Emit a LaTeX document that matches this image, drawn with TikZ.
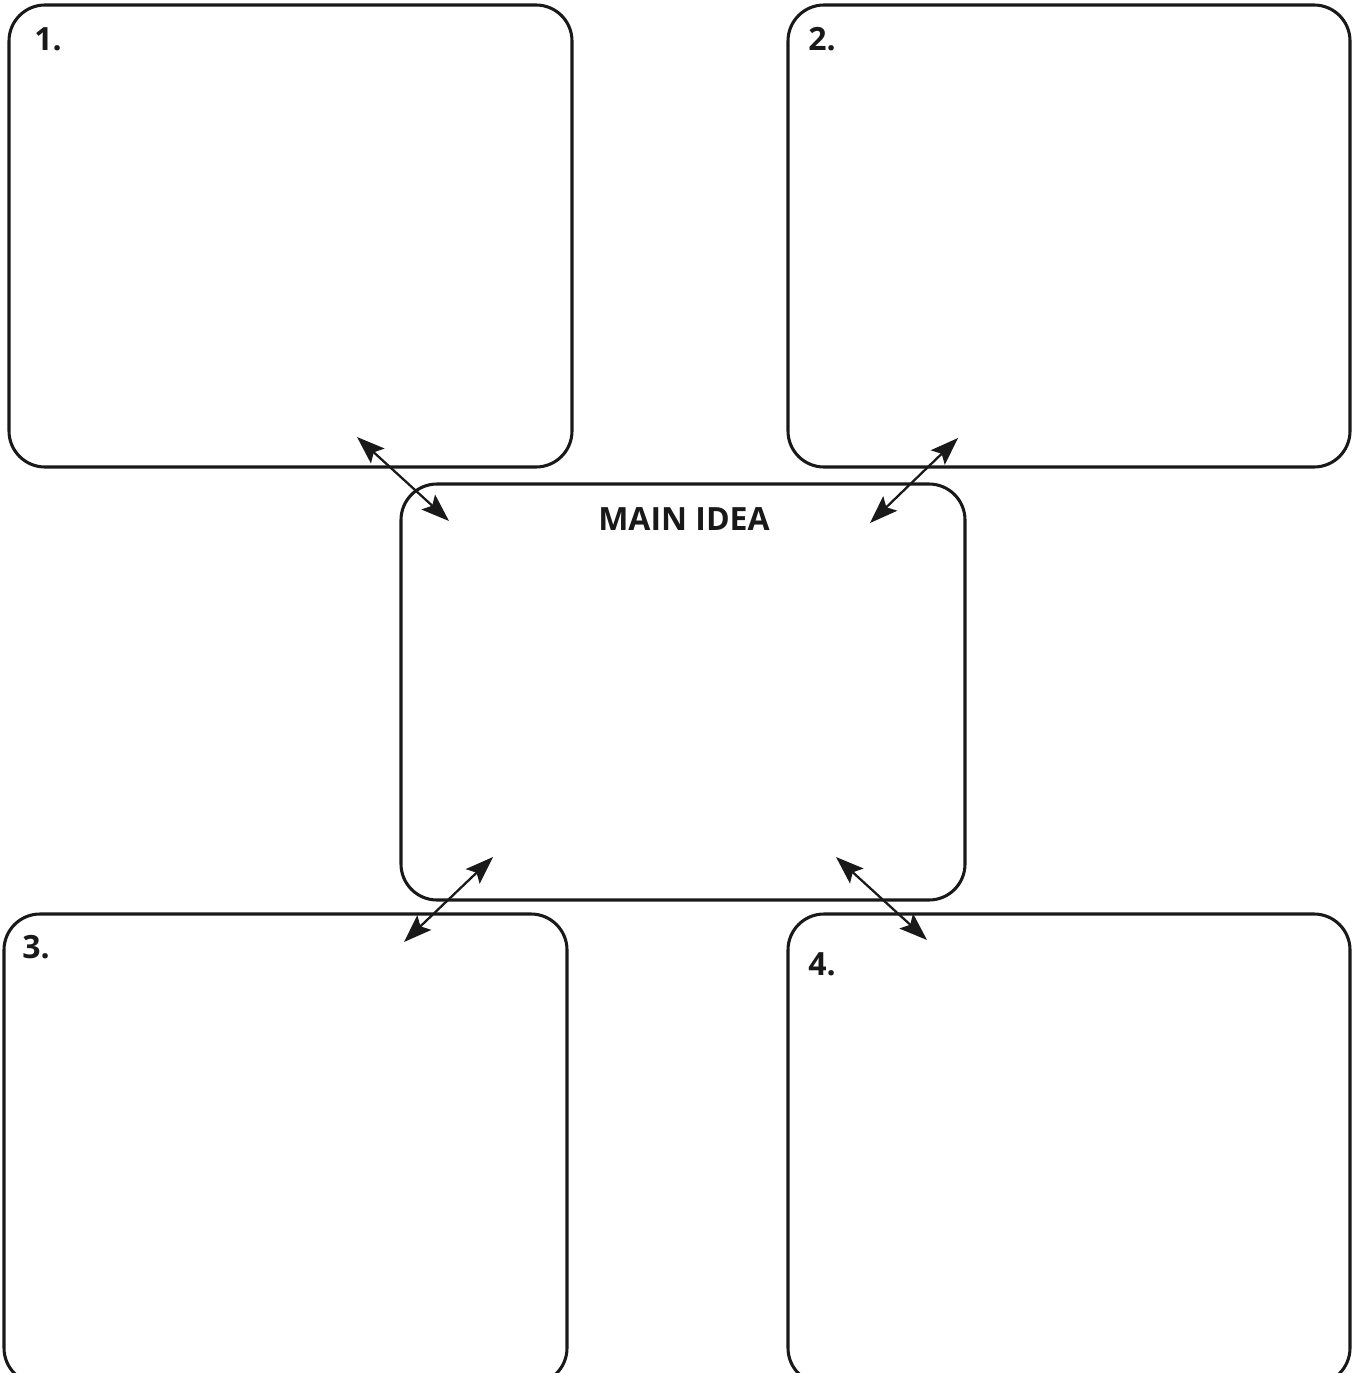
\documentclass[tikz,border=0pt]{standalone}
\usepackage{fontspec}
\setmainfont{Open Sans}
\usetikzlibrary{arrows.meta}
\begin{document}
\begin{tikzpicture}[x=0.75pt,y=-0.75pt,
  box/.style={draw=black!90, line width=2.3pt, rounded corners=27pt, inner sep=0pt},
  lbl/.style={anchor=base west, inner sep=0pt, font=\fontsize{24}{28}\selectfont\bfseries, text=black!90},
  link/.style={line width=1.7pt, draw=black!90, {Stealth[length=21pt,width=15pt,inset=4pt]}-{Stealth[length=21pt,width=15pt,inset=4pt]}}]
\useasboundingbox (0,0) rectangle (1356,1373);
\clip (0,0) rectangle (1356,1373);
\node[box, minimum width=422.25pt, minimum height=346.5pt] (b1) at (290.5,236) {};
\node[box, minimum width=421.5pt, minimum height=346.5pt] (b2) at (1069,236) {};
\node[box, minimum width=423pt, minimum height=312pt] (main) at (683,692) {};
\node[box, minimum width=422.25pt, minimum height=352.5pt] (b3) at (285.5,1149) {};
\node[box, minimum width=421.5pt, minimum height=352.5pt] (b4) at (1069,1149) {};
\node[lbl] (l1) at (34,51) {1.};
\node[lbl] (l2) at (808,51) {2.};
\node[lbl] (l3) at (22,958) {3.};
\node[lbl] (l4) at (808,975) {4.};
\node[lbl] (lm) at (598,530) {MAIN IDEA};
\coordinate (a1s) at (357,437); \coordinate (a1e) at (449,521);
\coordinate (a2s) at (958,438); \coordinate (a2e) at (870,523);
\coordinate (a3s) at (493,857); \coordinate (a3e) at (404,942);
\coordinate (a4s) at (836,857); \coordinate (a4e) at (927,940);
\draw[link] (a1s) -- (a1e);
\draw[link] (a2s) -- (a2e);
\draw[link] (a3s) -- (a3e);
\draw[link] (a4s) -- (a4e);
\end{tikzpicture}
\end{document}
